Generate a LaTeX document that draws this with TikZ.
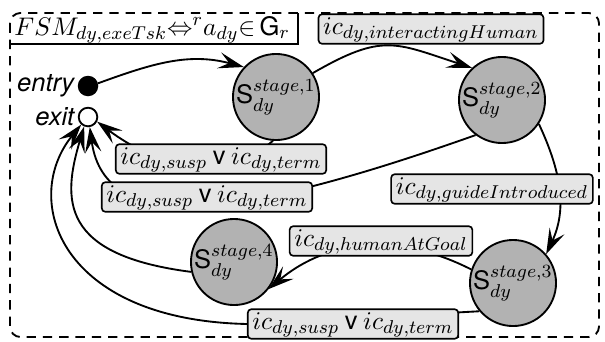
\documentclass[tikz,border=0pt]{standalone}
\usepackage{fontspec}
\setsansfont{TeX Gyre Heros}
\usetikzlibrary{arrows.meta}
\pgfdeclarelayer{back}
\pgfsetlayers{back,main}
\tikzset{
  stateC/.style={circle, draw, line width=0.8pt, fill=gray!60, minimum size=37pt, inner sep=0pt},
  pseudo/.style={circle, draw, line width=0.8pt, minimum size=8pt, inner sep=0pt},
  pseudotext/.style={font=\sffamily\itshape, inner sep=1pt},
  cond/.style={draw, line width=0.7pt, fill=gray!20, rounded corners=1.5pt,
    inner xsep=2pt, inner ysep=1pt, text height=7.5pt, text depth=3.2pt},
  trans/.style={line width=0.8pt, -{Stealth[length=11pt,width=7pt,inset=4.5pt]}},
  framebox/.style={line width=0.8pt, dash pattern=on 4pt off 3pt, rounded corners=4.5pt}
}
\newcommand{\stagetext}[1]{\makebox[30pt]{$\mathsf{S}^{stage,#1}_{dy}$}}
\begin{document}
\fontsize{10.95}{13}\selectfont
\begin{tikzpicture}[x=0.43pt,y=-0.43pt]
\useasboundingbox (0,0) rectangle (605,341);

% stages
\node[stateC] (s1) at (276,97)  {\stagetext{1}};
\node[stateC] (s2) at (502,100) {\stagetext{2}};
\node[stateC] (s3) at (513,283) {\stagetext{3}};
\node[stateC] (s4) at (234,262) {\stagetext{4}};

% entry and exit points
\node[pseudo, fill=black] (entry) at (88,86) {};
\node[pseudo, fill=white] (exit) at (88,117) {};
\node[pseudotext, anchor=east] (entrylbl) at (77,86) {entry};
\node[pseudotext, anchor=east] (exitlbl) at (77,117) {exit};

% guard conditions
\node[cond] (g12) at (431,29)  {$ic_{dy,interactingHuman}$};
\node[cond] (g1x) at (221,159) {$ic_{dy,susp}\mathbin{\mathsf{v}}ic_{dy,term}$};
\node[cond] (g2x) at (207,197) {$ic_{dy,susp}\mathbin{\mathsf{v}}ic_{dy,term}$};
\node[cond] (g23) at (492,189) {$ic_{dy,guideIntroduced}$};
\node[cond] (g34) at (381,241) {$ic_{dy,humanAtGoal}$};
\node[cond] (g3x) at (353,324) {$ic_{dy,susp}\mathbin{\mathsf{v}}ic_{dy,term}$};

% name tab
\node[anchor=base west, inner sep=0pt] (title) at (14,35)
  {$FSM_{dy,exeTsk}{\Leftrightarrow}{}^{r}a_{dy}{\in}\,\mathsf{G}_r$};
\draw[line width=0.8pt] (10,44) -- (298,44) -- (298,13);

\begin{pgfonlayer}{back}
  \draw[framebox] (10,13) rectangle (599,337);
  % transitions between stages
  \draw[trans] (entry.15) to[out=20,in=165] (s1.137);
  \draw[trans] (s1.33) to[out=30,in=162,looseness=1.3] (s2.133);
  \draw[trans] (s2.-33) to[out=-65,in=65] (s3.41);
  \draw[trans] (s3.162) to[out=153,in=40] (s4.-38);
  % transitions to the exit point
  \draw[trans] (s1.-94) .. controls (220,185) and (155,165) .. (exit.-27);
  \draw[trans] (s2.-127) .. controls (250,215) and (105,240) .. (exit.-80);
  \draw[trans] (s4.-167) .. controls (60,255) and (62,200) .. (exit.-112);
  \draw[trans] (s3.-140) -- (g3x.west) .. controls (60,320) and (20,200) .. (exit.-132);
\end{pgfonlayer}
\end{tikzpicture}
\end{document}
